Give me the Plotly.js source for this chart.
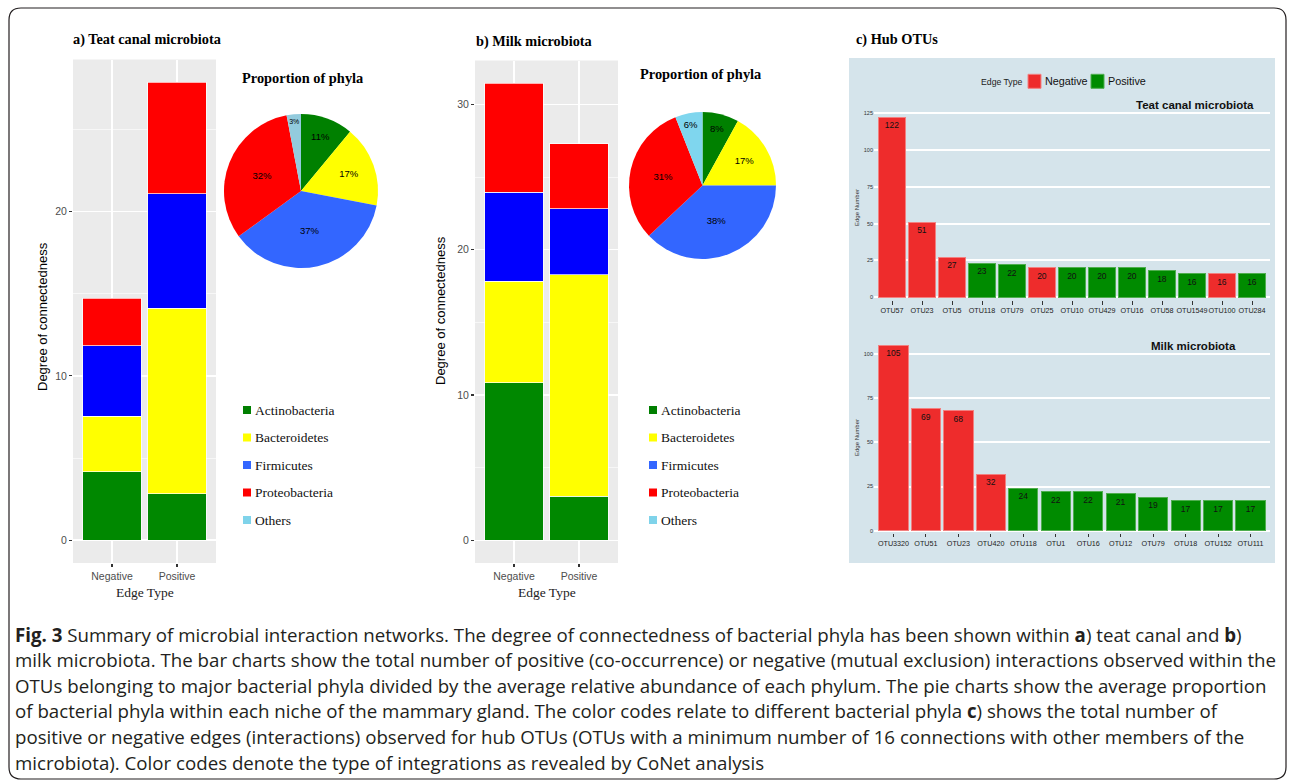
<!DOCTYPE html>
<html><head><meta charset="utf-8">
<script src="https://cdn.plot.ly/plotly-3.0.1.min.js"></script>
<style>html,body{margin:0;padding:0;background:#fff}</style>
</head><body><div id="chart" style="width:1290px;height:780px"></div>
<script>
// ---------------- DATA ----------------
const edgeTypes = ['Negative', 'Positive'];
const phyla = ['Actinobacteria', 'Bacteroidetes', 'Firmicutes', 'Proteobacteria', 'Others'];
// a) Teat canal microbiota – degree of connectedness (segment heights, [Negative, Positive])
const teatActino  = [4.16, 2.82];
const teatBactero = [3.39, 11.30];
const teatFirmi   = [4.30, 6.98];
const teatProteo  = [2.87, 6.77];
// b) Milk microbiota
const milkActino  = [10.85, 3.02];
const milkBactero = [6.98, 15.27];
const milkFirmi   = [6.12, 4.53];
const milkProteo  = [7.50, 4.49];
// Proportion of phyla (%)
const teatPie = [11, 17, 37, 32, 3];
const milkPie = [8, 17, 38, 31, 6];
// c) Hub OTUs
const teatOTUs  = ['OTU57','OTU23','OTU5','OTU118','OTU79','OTU25','OTU10','OTU429','OTU16','OTU58','OTU1549','OTU100','OTU284'];
const teatEdges = [122, 51, 27, 23, 22, 20, 20, 20, 20, 18, 16, 16, 16];
const teatTypes = ['Negative','Negative','Negative','Positive','Positive','Negative','Positive','Positive','Positive','Positive','Positive','Negative','Positive'];
const milkOTUs  = ['OTU3320','OTU51','OTU23','OTU420','OTU118','OTU1','OTU16','OTU12','OTU79','OTU18','OTU152','OTU111'];
const milkEdges = [105, 69, 68, 32, 24, 22, 22, 21, 19, 17, 17, 17];
const milkTypes = ['Negative','Negative','Negative','Negative','Positive','Positive','Positive','Positive','Positive','Positive','Positive','Positive'];
const captionLines = [
  '<b>Fig. 3</b> Summary of microbial interaction networks. The degree of connectedness of bacterial phyla has been shown within <b>a</b>) teat canal and <b>b</b>)',
  'milk microbiota. The bar charts show the total number of positive (co-occurrence) or negative (mutual exclusion) interactions observed within the',
  'OTUs belonging to major bacterial phyla divided by the average relative abundance of each phylum. The pie charts show the average proportion',
  'of bacterial phyla within each niche of the mammary gland. The color codes relate to different bacterial phyla <b>c</b>) shows the total number of',
  'positive or negative edges (interactions) observed for hub OTUs (OTUs with a minimum number of 16 connections with other members of the',
  'microbiota). Color codes denote the type of integrations as revealed by CoNet analysis'
];

// ---------------- STYLE ----------------
const W = 1290, H = 780;
const SANS = 'Liberation Sans, Arial, sans-serif';
const SERIF = 'Liberation Serif, Times New Roman, serif';
const CAP = 'Open Sans, Noto Sans, sans-serif';
const fx = p => p / W, fy = p => 1 - p / H;
const domX = (a, b) => [fx(a), fx(b)];
const domY = (top, bottom) => [fy(bottom), fy(top)];

const barColors = ['#008800', '#FFFF00', '#0000FF', '#FF0000'];
const pieColorsA = ['#008000', '#FFFF00', '#3366FF', '#FF0000', '#93CBDD'];
const pieColorsB = ['#008000', '#FFFF00', '#3366FF', '#FF0000', '#7FD6EE'];
const legendColors = ['#007F00', '#FFFF00', '#3366FF', '#FF0000', '#7FD3EA'];
const RED = '#EE2C2C', GREEN = '#008B00';
const REDL = '#F28080', GREENL = '#4FAE4F';

function ann(text, x, y, o) {
  return Object.assign({text, x: fx(x), y: fy(y), xref: 'paper', yref: 'paper', showarrow: false,
    xanchor: 'left', yanchor: 'middle', borderpad: 0,
    font: {family: SANS, size: 12, color: '#000'}}, o || {});
}

// ---------------- TRACES ----------------
const traces = [];
const teatSeries = [teatActino, teatBactero, teatFirmi, teatProteo];
const milkSeries = [milkActino, milkBactero, milkFirmi, milkProteo];
teatSeries.forEach((vals, i) => traces.push({type: 'bar', x: edgeTypes, y: vals, name: phyla[i],
  xaxis: 'x', yaxis: 'y', width: 0.9, marker: {color: barColors[i], line: {color: 'rgba(255,255,255,0.7)', width: 1}},
  showlegend: false, hoverinfo: 'none'}));
milkSeries.forEach((vals, i) => traces.push({type: 'bar', x: edgeTypes, y: vals, name: phyla[i],
  xaxis: 'x2', yaxis: 'y2', width: 0.9, marker: {color: barColors[i], line: {color: 'rgba(255,255,255,0.7)', width: 1}},
  showlegend: false, hoverinfo: 'none'}));

function pie(vals, colors, dx, dy) {
  return {type: 'pie', values: vals, labels: phyla, sort: false, direction: 'clockwise', rotation: 0,
    marker: {colors, line: {width: 0}}, texttemplate: '%{value}%', textposition: 'inside',
    insidetextorientation: 'horizontal', textfont: {family: SANS, size: 9.5, color: '#000'},
    domain: {x: dx, y: dy}, showlegend: false, hoverinfo: 'none'};
}
traces.push(pie(teatPie, pieColorsA, domX(224, 378), domY(114, 268)));
traces.push(pie(milkPie, pieColorsB, domX(629, 776), domY(112, 259)));

function hubBar(xs, ys, types, xa, ya) {
  return {type: 'bar', x: xs, y: ys, xaxis: xa, yaxis: ya, width: 0.9,
    marker: {color: types.map(t => t === 'Negative' ? RED : GREEN),
             line: {color: types.map(t => t === 'Negative' ? REDL : GREENL), width: 1}},
    text: ys.map(String), textposition: 'inside', insidetextanchor: 'end', textangle: 0,
    constraintext: 'none', textfont: {family: SANS, size: 8.5, color: '#111'},
    showlegend: false, hoverinfo: 'none'};
}
traces.push(hubBar(teatOTUs, teatEdges, teatTypes, 'x3', 'y3'));
traces.push(hubBar(milkOTUs, milkEdges, milkTypes, 'x4', 'y4'));

// ---------------- AXES ----------------
function ggX(dom, anchor) {
  return {domain: dom, anchor, type: 'category', range: [-0.6, 1.6], showgrid: true, gridcolor: '#FFFFFF',
    gridwidth: 1.4, zeroline: false, showline: false, ticks: 'outside', ticklen: 3, tickwidth: 1.1,
    tickcolor: '#333', tickfont: {family: SANS, size: 10.5, color: '#4D4D4D'}, fixedrange: true};
}
function ggY(dom, anchor, range, vals) {
  return {domain: dom, anchor, range, tickvals: vals, showgrid: true, gridcolor: '#FFFFFF', gridwidth: 1.4,
    minor: {dtick: 5, tick0: 0, showgrid: true, gridcolor: '#FFFFFF', gridwidth: 0.6, ticks: ''},
    zeroline: false, showline: false, ticks: 'outside', ticklen: 3, tickwidth: 1.1, tickcolor: '#333',
    tickfont: {family: SANS, size: 10.5, color: '#4D4D4D'}, fixedrange: true};
}
function ecoX(dom, anchor, n) {
  return {domain: dom, anchor, type: 'category', range: [-0.6, n - 0.4], showgrid: false, zeroline: false,
    showline: false, ticks: 'outside', ticklen: 3.5, tickwidth: 1, tickcolor: '#333', tickangle: 0,
    tickfont: {family: SANS, size: 7.2, color: '#222'}, fixedrange: true};
}
function ecoY(dom, anchor, range) {
  return {domain: dom, anchor, range, dtick: 25, tick0: 0, showgrid: true, gridcolor: '#FFFFFF', gridwidth: 2,
    zeroline: false, showline: false, ticks: '', tickfont: {family: SANS, size: 5.5, color: '#333'}, fixedrange: true};
}

const layout = {
  width: W, height: H, margin: {l: 0, r: 0, t: 0, b: 0}, autosize: false,
  paper_bgcolor: '#FFFFFF', plot_bgcolor: 'rgba(0,0,0,0)', barmode: 'stack', showlegend: false,
  xaxis: ggX(domX(73, 216), 'y'),
  yaxis: ggY(domY(59.5, 563), 'x', [-1.39, 29.26], [0, 10, 20]),
  xaxis2: ggX(domX(475, 618), 'y2'),
  yaxis2: ggY(domY(60.6, 563), 'x2', [-1.57, 33.02], [0, 10, 20, 30]),
  xaxis3: ecoX(domX(874, 1270), 'y3', teatOTUs.length),
  yaxis3: ecoY(domY(107.1, 300.25), 'x3', [-2, 129]),
  xaxis4: ecoX(domX(874, 1270), 'y4', milkOTUs.length),
  yaxis4: ecoY(domY(336.3, 532.8), 'x4', [-1.2, 110]),
  shapes: [],
  annotations: []
};

// backgrounds
layout.shapes.push({type: 'rect', xref: 'x domain', yref: 'y domain', x0: 0, x1: 1, y0: 0, y1: 1,
  fillcolor: '#EBEBEB', line: {width: 0}, layer: 'below'});
layout.shapes.push({type: 'rect', xref: 'x2 domain', yref: 'y2 domain', x0: 0, x1: 1, y0: 0, y1: 1,
  fillcolor: '#EBEBEB', line: {width: 0}, layer: 'below'});
layout.shapes.push({type: 'rect', xref: 'paper', yref: 'paper', x0: fx(849), x1: fx(1275), y0: fy(563), y1: fy(58),
  fillcolor: '#D5E4EB', line: {width: 0}, layer: 'below'});

// rounded frame
(function () {
  const x0 = 9, x1 = 1286, y0 = 8, y1 = 779, r = 12;
  const P = (x, y) => fx(x) + ',' + fy(y);
  const path = 'M' + P(x0 + r, y0) + ' L' + P(x1 - r, y0) + ' Q' + P(x1, y0) + ' ' + P(x1, y0 + r) +
    ' L' + P(x1, y1 - r) + ' Q' + P(x1, y1) + ' ' + P(x1 - r, y1) +
    ' L' + P(x0 + r, y1) + ' Q' + P(x0, y1) + ' ' + P(x0, y1 - r) +
    ' L' + P(x0, y0 + r) + ' Q' + P(x0, y0) + ' ' + P(x0 + r, y0) + ' Z';
  layout.shapes.push({type: 'path', xref: 'paper', yref: 'paper', path, line: {color: '#231F20', width: 1.2}, fillcolor: 'rgba(0,0,0,0)'});
})();

// phyla legends (a and b)
const legendY = [410, 437.5, 465, 492.5, 520];
[[243, 254], [649, 660]].forEach(([sx, tx]) => {
  phyla.forEach((p, i) => {
    layout.shapes.push({type: 'rect', xref: 'paper', yref: 'paper', x0: fx(sx), x1: fx(sx + 8),
      y0: fy(legendY[i] + 4), y1: fy(legendY[i] - 4), fillcolor: legendColors[i], line: {width: 0}});
    layout.annotations.push(ann(p, tx, legendY[i], {font: {family: SERIF, size: 13.5, color: '#111'}}));
  });
});

// Edge type legend (c)
layout.shapes.push({type: 'rect', xref: 'paper', yref: 'paper', x0: fx(1028), x1: fx(1041), y0: fy(88.3), y1: fy(74.3),
  fillcolor: RED, line: {color: REDL, width: 1}});
layout.shapes.push({type: 'rect', xref: 'paper', yref: 'paper', x0: fx(1091), x1: fx(1104), y0: fy(88.3), y1: fy(74.3),
  fillcolor: GREEN, line: {color: GREENL, width: 1}});
layout.annotations.push(ann('Edge Type', 980, 82, {font: {family: SANS, size: 8.7, color: '#222'}}));
layout.annotations.push(ann(edgeTypes[0], 1043.5, 81, {font: {family: SANS, size: 10.8, color: '#111'}}));
layout.annotations.push(ann(edgeTypes[1], 1106.5, 81, {font: {family: SANS, size: 10.8, color: '#111'}}));

// titles
layout.annotations.push(ann('<b>a) Teat canal microbiota</b>', 72, 39.5, {font: {family: SERIF, size: 14.3, color: '#000'}}));
layout.annotations.push(ann('<b>b) Milk microbiota</b>', 475, 41, {font: {family: SERIF, size: 14.3, color: '#000'}}));
layout.annotations.push(ann('<b>c) Hub OTUs</b>', 855, 39.5, {font: {family: SERIF, size: 14.3, color: '#000'}}));
layout.annotations.push(ann('<b>Proportion of phyla</b>', 302, 78, {xanchor: 'center', font: {family: SERIF, size: 14.4, color: '#000'}}));
layout.annotations.push(ann('<b>Proportion of phyla</b>', 700.5, 74, {xanchor: 'center', font: {family: SERIF, size: 14.4, color: '#000'}}));
layout.annotations.push(ann('<b>Teat canal microbiota</b>', 1255, 105, {xanchor: 'right', font: {family: SANS, size: 11.5, color: '#111'}}));
layout.annotations.push(ann('<b>Milk microbiota</b>', 1237, 346, {xanchor: 'right', font: {family: SANS, size: 11.5, color: '#111'}}));

// axis titles
layout.annotations.push(ann('Degree of connectedness', 42, 317, {xanchor: 'center', textangle: -90, font: {family: SANS, size: 13, color: '#000'}}));
layout.annotations.push(ann('Degree of connectedness', 441, 310, {xanchor: 'center', textangle: -90, font: {family: SANS, size: 13, color: '#000'}}));
layout.annotations.push(ann('Edge Type', 144.5, 592, {xanchor: 'center', font: {family: SERIF, size: 13.5, color: '#222'}}));
layout.annotations.push(ann('Edge Type', 546.5, 592, {xanchor: 'center', font: {family: SERIF, size: 13.5, color: '#222'}}));
layout.annotations.push(ann('Edge Number', 857, 208, {xanchor: 'center', textangle: -90, font: {family: SANS, size: 6, color: '#333'}}));
layout.annotations.push(ann('Edge Number', 857, 438, {xanchor: 'center', textangle: -90, font: {family: SANS, size: 6, color: '#333'}}));

// caption
captionLines.forEach((t, i) => {
  layout.annotations.push(ann(t, 14, 634 + i * 25.6, {font: {family: CAP, size: 18.7, color: '#231F20'}}));
});

Plotly.newPlot('chart', traces, layout, {staticPlot: true, displayModeBar: false});
</script>
</body></html>
